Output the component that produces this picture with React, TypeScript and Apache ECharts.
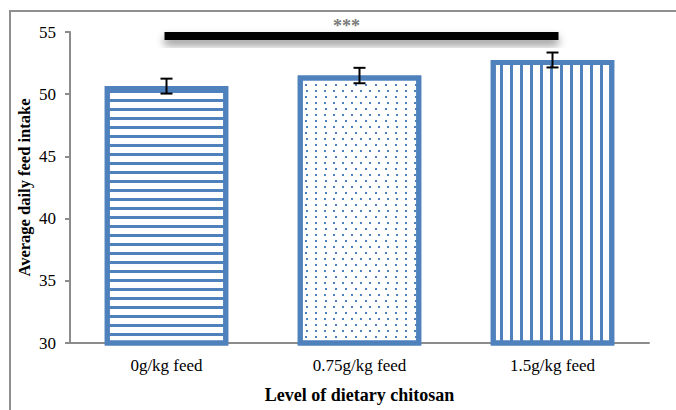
import React, { useEffect, useRef } from "react";
import * as echarts from "echarts";

const categories = ["0g/kg feed", "0.75g/kg feed", "1.5g/kg feed"];
const meanIntake = [50.65, 51.5, 52.75];
const errIntake = [0.6, 0.62, 0.6];
const sigFrom = 0;
const sigTo = 2;
const sigLevel = 54.68;
const sigLabel = "***";

const BLUE = "#4f81bd";
const FONT = "Liberation Serif";

const decals = [
  { symbol: "rect", symbolSize: 1, color: BLUE, dashArrayX: [1, 0], dashArrayY: [2.5, 6], rotation: 0 },
  { symbol: "rect", symbolSize: 1, color: BLUE, dashArrayX: [[2, 7], [0, 4.5, 2, 2.5]], dashArrayY: [2, 4], rotation: 0 },
  { symbol: "rect", symbolSize: 1, color: BLUE, dashArrayX: [2.5, 6.1], dashArrayY: [1, 0], rotation: 0 },
];

export default function App() {
  const ref = useRef<HTMLDivElement>(null);
  useEffect(() => {
    const chart = echarts.init(ref.current!, null, { renderer: "svg" });
    chart.setOption({
      animation: false,
      backgroundColor: "#fff",
      grid: { left: 70, right: 27, top: 32, bottom: 67 },
      graphic: [
        {
          type: "rect",
          shape: { x: 10, y: 11, width: 720, height: 460 },
          style: { fill: "none", stroke: "#8f8f8f", lineWidth: 2 },
          silent: true,
        },
      ],
      xAxis: {
        type: "category",
        data: categories,
        axisLine: { lineStyle: { color: "#8c8c8c", width: 2 } },
        axisTick: { show: false },
        axisLabel: { color: "#000", fontFamily: FONT, fontSize: 17, margin: 14 },
        name: "Level of dietary chitosan",
        nameLocation: "middle",
        nameGap: 43,
        nameTextStyle: { color: "#000", fontFamily: FONT, fontSize: 18, fontWeight: "bold" },
      },
      yAxis: {
        type: "value",
        min: 30,
        max: 55,
        interval: 5,
        axisLine: { show: true, lineStyle: { color: "#8c8c8c", width: 2 } },
        axisTick: { show: true, length: 5, lineStyle: { color: "#8c8c8c", width: 2 } },
        splitLine: { show: false },
        axisLabel: { color: "#000", fontFamily: FONT, fontSize: 17, margin: 14 },
        name: "Average daily feed intake",
        nameLocation: "middle",
        nameGap: 37,
        nameMoveOverlap: false,
        nameTextStyle: { color: "#000", fontFamily: FONT, fontSize: 16.5, fontWeight: "bold" },
      },
      series: [
        {
          type: "bar",
          barWidth: "64%",
          data: meanIntake.map((v, i) => ({
            value: v,
            itemStyle: {
              color: "#fff",
              borderColor: BLUE,
              borderWidth: 5,
              decal: decals[i],
            },
          })),
          z: 2,
        },
        {
          type: "custom",
          z: 5,
          data: meanIntake.map((v, i) => [i, v, errIntake[i]]),
          encode: { x: 0, y: 1 },
          renderItem: (params: any, api: any) => {
            const i = api.value(0);
            const v = api.value(1);
            const e = api.value(2);
            const top = api.coord([i, v + e]);
            const bot = api.coord([i, v - e]);
            const hw = 6;
            const st = { stroke: "#000", lineWidth: 2 };
            return {
              type: "group",
              children: [
                { type: "line", shape: { x1: top[0], y1: top[1], x2: bot[0], y2: bot[1] }, style: st },
                { type: "line", shape: { x1: top[0] - hw, y1: top[1], x2: top[0] + hw, y2: top[1] }, style: st },
                { type: "line", shape: { x1: bot[0] - hw, y1: bot[1], x2: bot[0] + hw, y2: bot[1] }, style: st },
              ],
            };
          },
        },
        {
          type: "custom",
          z: 6,
          data: [[sigFrom, sigLevel]],
          encode: { x: 0, y: 1 },
          renderItem: (params: any, api: any) => {
            const p0 = api.coord([sigFrom, sigLevel]);
            const p1 = api.coord([sigTo, sigLevel]);
            const x0 = p0[0] - 2;
            const x1 = p1[0] + 6;
            return {
              type: "group",
              children: [
                {
                  type: "rect",
                  shape: { x: x0, y: p0[1] - 4, width: x1 - x0, height: 8 },
                  style: {
                    fill: "#000",
                    shadowBlur: 8,
                    shadowColor: "rgba(0,0,0,0.45)",
                    shadowOffsetY: 5,
                  },
                },
                {
                  type: "text",
                  style: {
                    text: sigLabel,
                    x: (x0 + x1) / 2 - 15,
                    y: p0[1] - 1,
                    align: "center",
                    verticalAlign: "bottom",
                    fill: "#7a7a7a",
                    font: "bold 18px " + FONT,
                  },
                },
              ],
            };
          },
        },
      ],
    });
    return () => chart.dispose();
  }, []);
  return (
    <div
      ref={ref}
      style={{ position: "fixed", left: 0, top: 0, width: 676, height: 410 }}
    />
  );
}
